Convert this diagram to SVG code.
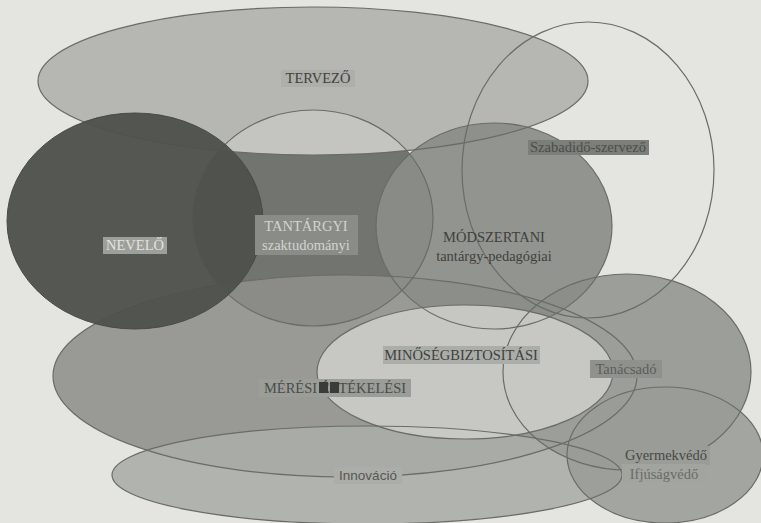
<svg xmlns="http://www.w3.org/2000/svg" width="761" height="523" viewBox="0 0 761 523">
  <style>
    .ol { fill: none; stroke: #6a6c67; stroke-width: 1.2; }
    .serif { font-family: "Liberation Serif", "DejaVu Serif", serif; font-size: 14.5px; text-anchor: middle; }
    .sans { font-family: "Liberation Sans", Arial, sans-serif; font-size: 13.5px; text-anchor: middle; }
    .dark { fill: #3f413d; }
    .light { fill: #e2e3df; }
    .box { stroke: none; }
  </style>
  <defs>
    <ellipse id="e-tervezo" cx="313" cy="81" rx="275" ry="74"/>
    <ellipse id="e-szabadido" cx="588" cy="170" rx="126" ry="148"/>
    <ellipse id="e-nevelo" cx="135" cy="221" rx="128" ry="108"/>
    <ellipse id="e-tantargyi" cx="313" cy="218" rx="120" ry="108"/>
    <ellipse id="e-modszertani" cx="494" cy="226" rx="118" ry="103"/>
    <ellipse id="e-meresi" cx="345" cy="376" rx="292" ry="101"/>
    <ellipse id="e-minoseg" cx="465" cy="372" rx="148" ry="67"/>
    <ellipse id="e-tanacsado" cx="627" cy="372" rx="124" ry="98"/>
    <ellipse id="e-gyermek" cx="665" cy="455" rx="98" ry="68"/>
    <ellipse id="e-innovacio" cx="367" cy="475" rx="255" ry="49"/>
    <clipPath id="clip-tervezo"><use href="#e-tervezo"/></clipPath>
  </defs>

  <rect x="0" y="0" width="761" height="523" fill="#e4e5e1"/>

  <g id="tantargyi">
    <use href="#e-tantargyi" fill="#72746f"/>
  </g>
  <g id="tervezo">
    <use href="#e-tervezo" fill="#b6b7b2"/>
    <use href="#e-tantargyi" fill="#c4c5c0" clip-path="url(#clip-tervezo)"/>
  </g>
  <g id="meresi">
    <use href="#e-meresi" fill="#8e908b" fill-opacity="0.88"/>
  </g>
  <g id="innovacio">
    <use href="#e-innovacio" fill="#abada8" fill-opacity="0.9"/>
  </g>
  <g id="tanacsado">
    <use href="#e-tanacsado" fill="#9c9e99"/>
  </g>
  <g id="modszertani">
    <use href="#e-modszertani" fill="#8b8d88" fill-opacity="0.92"/>
  </g>
  <g id="minoseg">
    <use href="#e-minoseg" fill="#c9cac5" fill-opacity="0.95"/>
  </g>
  <g id="gyermekvedo">
    <use href="#e-gyermek" fill="#9a9c97" fill-opacity="0.88"/>
  </g>
  <g id="szabadido">
    <use href="#e-szabadido" class="ol"/>
  </g>

  <g id="connectors">
    <use href="#e-tervezo" class="ol"/>
    <use href="#e-tantargyi" class="ol"/>
    <use href="#e-modszertani" class="ol"/>
    <use href="#e-meresi" class="ol"/>
    <use href="#e-innovacio" class="ol"/>
    <use href="#e-tanacsado" class="ol"/>
    <use href="#e-minoseg" class="ol"/>
    <use href="#e-gyermek" class="ol"/>
  </g>

  <g id="nevelo">
    <use href="#e-nevelo" fill="#4e514c" fill-opacity="0.96" stroke="#484a45" stroke-width="1"/>
  </g>

  <g id="labels">
    <g id="label-tervezo">
      <rect class="box" x="281" y="70" width="74" height="17" fill="#aeafaa"/>
      <text class="serif dark" x="318" y="83">TERVEZŐ</text>
    </g>
    <g id="label-szabadido">
      <rect class="box" x="528" y="140" width="121" height="15" fill="#7c7e79"/>
      <text class="serif" x="588" y="152" font-size="13" fill="#4b4d49">Szabadidő-szervező</text>
    </g>
    <g id="label-nevelo">
      <rect class="box" x="103" y="237" width="64" height="17" fill="#9d9f9a"/>
      <text class="serif light" x="135" y="250">NEVELŐ</text>
    </g>
    <g id="label-tantargyi">
      <rect class="box" x="255" y="215" width="103" height="40" fill="#8a8c87"/>
      <text class="serif" x="306" y="231" fill="#d3d4cf">TANTÁRGYI</text>
      <text class="serif" x="306" y="250" fill="#d3d4cf">szaktudományi</text>
    </g>
    <g id="label-modszertani">
      <text class="serif dark" x="494" y="242">MÓDSZERTANI</text>
      <text class="serif dark" x="494" y="261">tantárgy-pedagógiai</text>
    </g>
    <g id="label-minoseg">
      <rect class="box" x="383" y="346" width="157" height="18" fill="#abada8"/>
      <text class="serif dark" x="461" y="360">MINŐSÉGBIZTOSÍTÁSI</text>
    </g>
    <g id="label-meresi">
      <rect class="box" x="259" y="379" width="152" height="18" fill="#9b9d98"/>
      <rect class="box" x="319" y="382" width="9" height="11" fill="#3a3c38"/>
      <rect class="box" x="330" y="382" width="9" height="11" fill="#3a3c38"/>
      <text class="serif" x="335" y="393" fill="#4a4c48">MÉRÉSI <tspan fill="#3a3c38">ÉR</tspan>TÉKELÉSI</text>
    </g>
    <g id="label-tanacsado">
      <rect class="box" x="590" y="360" width="72" height="18" fill="#8f918c"/>
      <text class="serif" x="626" y="374" fill="#5c5e5a">Tanácsadó</text>
    </g>
    <g id="label-gyermekvedo">
      <rect class="box" x="622" y="446" width="88" height="19" fill="#9a9c97"/>
      <rect class="box" x="622" y="464" width="84" height="18" fill="#a2a49f"/>
      <text class="serif" x="666" y="460" fill="#474945">Gyermekvédő</text>
      <text class="serif" x="664" y="479" fill="#6a6c67">Ifjúságvédő</text>
    </g>
    <g id="label-innovacio">
      <rect class="box" x="334" y="467" width="68" height="17" fill="#abada8"/>
      <text class="sans" x="368" y="480" fill="#565854">Innováció</text>
    </g>
  </g>
</svg>
